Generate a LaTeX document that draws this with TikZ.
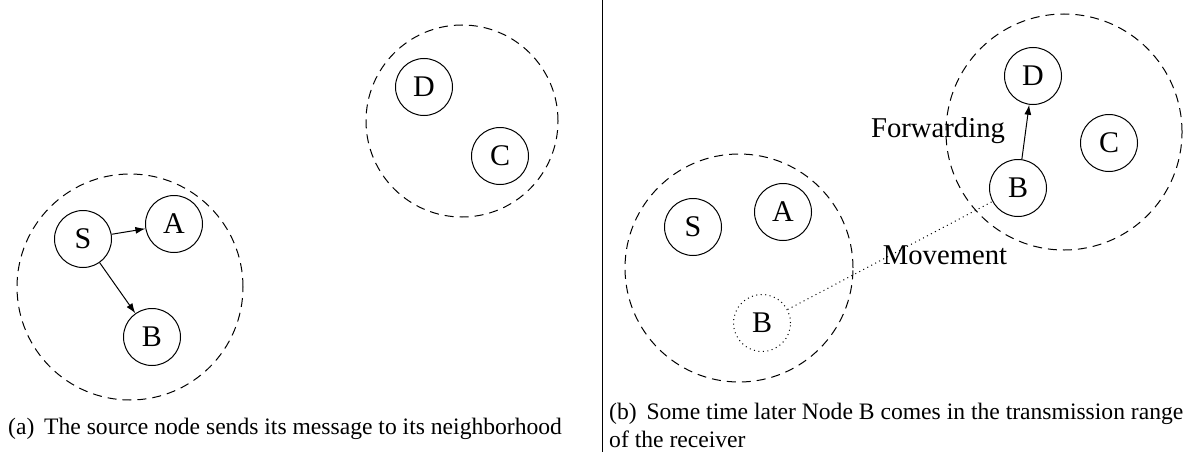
\documentclass[tikz,border=0pt]{standalone}
\usepackage{fontspec}
\setmainfont{Liberation Serif}
\usetikzlibrary{arrows.meta}
\tikzset{
  nd/.style={circle,draw,line width=1pt,minimum size=57pt,inner sep=0pt,font=\fontsize{30}{32}\selectfont},
  ghost/.style={nd,dash pattern=on 1pt off 3.5pt},
  rangecircle/.style={circle,draw,line width=1pt,dash pattern=on 9pt off 6pt,inner sep=0pt},
  lbl/.style={font=\fontsize{28.7}{30}\selectfont,inner sep=0pt},
  captxt/.style={font=\fontsize{23.6}{28}\selectfont,inner sep=0pt,align=left},
  arr/.style={-{Latex[length=10pt,width=7pt]},line width=1pt},
}
\begin{document}
\begin{tikzpicture}[x=1pt,y=-1pt]
\useasboundingbox (0,0) rectangle (1190,452);
% left panel
\node[rangecircle,minimum size=226pt] (r1) at (130,287) {};
\node[rangecircle,minimum size=192pt] (r2) at (462,121) {};
\node[nd] (S1) at (83,239) {S};
\node[nd] (A1) at (174,224) {A};
\node[nd] (B1) at (152,337) {B};
\node[nd] (D1) at (424,87) {D};
\node[nd] (C1) at (500,156) {C};
\draw[arr] (S1) -- (A1);
\draw[arr] (S1) -- (B1);
\node[captxt,anchor=west] (capa) at (8,429) {(a)\, The source node sends its message to its neighborhood};
% separator
\coordinate (t) at (602,0);
\coordinate (b) at (602,452);
\draw[line width=0.9pt] (t) -- (b);
% right panel
\node[rangecircle,minimum size=228pt] (r3) at (739,268) {};
\node[rangecircle,minimum size=236pt] (r4) at (1064,132) {};
\node[nd] (S2) at (693,227) {S};
\node[nd] (A2) at (783,212) {A};
\node[ghost] (Bo) at (762,323) {B};
\node[nd] (D2) at (1033,76) {D};
\node[nd] (C2) at (1109,143) {C};
\node[nd] (B2) at (1018,188) {B};
\draw[line width=1pt,dash pattern=on 1pt off 3.5pt] (Bo) -- (B2);
\draw[arr] (B2) -- (D2);
\node[lbl] (mv) at (945,255) {Movement};
\node[lbl] (fw) at (938,131) {Forwarding};
\node[captxt,anchor=north west] (capb) at (609,403) {(b)\, Some time later Node B comes in the transmission range\\of the receiver};
\end{tikzpicture}
\end{document}
